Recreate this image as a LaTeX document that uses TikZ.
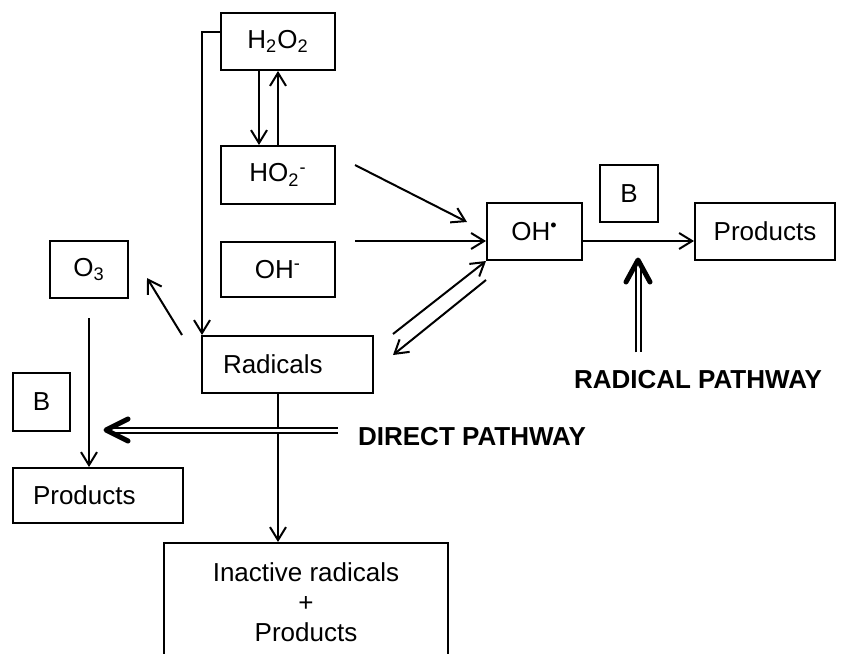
\documentclass[tikz,border=0pt]{standalone}
\usepackage{fontspec}
\setmainfont{Liberation Sans}
\usetikzlibrary{arrows.meta,positioning}

\begin{document}
\begin{tikzpicture}[x=0.5pt,y=-0.5pt,
      font=\fontsize{13}{15}\selectfont,
      box/.style={draw, line width=1pt, inner sep=0pt, align=center},
      leftbox/.style={box, align=left},
      arr/.style={-{Straight Barb[length=6.5pt,width=8pt]}, line width=1pt},
      route/.style={double, double distance=1.5pt, line width=1pt},
      headv/.style={line width=2.5pt, line cap=round, line join=round},
      pathlab/.style={font=\fontsize{13}{15}\selectfont\bfseries, inner sep=0pt}
    ]
    \useasboundingbox (0,0) rectangle (856,653);
    \node[box, minimum width=57pt, minimum height=28.5pt] (h2o2) at (278,41.5) {H\textsubscript{2}O\textsubscript{2}};
    \node[box, minimum width=57pt, minimum height=29pt] (ho2) at (278,175) {HO\textsubscript{2}\textsuperscript{-}};
    \node[box, minimum width=57pt, minimum height=27.5pt] (ohm) at (278,269.5) {OH\textsuperscript{-}};
    \node[box, minimum width=39pt, minimum height=28.5pt] (o3) at (89,269.5) {O\textsubscript{3}};
    \node[leftbox, inner xsep=10.5pt, text width=64.5pt, minimum height=28.5pt] (rad) at (287.5,364.5) {Radicals};
    \node[box, minimum width=28.5pt, minimum height=29pt] (bl) at (41.5,402) {B};
    \node[leftbox, inner xsep=10pt, text width=65pt, minimum height=27.5pt] (prodl) at (98,495.5) {Products};
    \node[box, minimum width=142pt, minimum height=59pt] (inact) at (306,602) {Inactive radicals\\+\\Products};
    \node[box, minimum width=47.5pt, minimum height=28.5pt] (ohr) at (534.5,231.5) {OH\textsuperscript{\textbullet}};
    \node[box, minimum width=29pt, minimum height=28.5pt] (bu) at (629,193.5) {B};
    \node[box, minimum width=70pt, minimum height=28.5pt] (prodr) at (765,231.5) {Products};

    \node[pathlab] (dlab) at (472,437) {DIRECT PATHWAY};
    \node[pathlab] (rlab) at (698,380) {RADICAL PATHWAY};
    \coordinate (dtip) at (106,430);
    \coordinate (rtip) at (638,260);

    % peroxide branch
    \draw[arr] ([yshift=4.75pt]h2o2.west) -| ([xshift=0.5pt]rad.north west);
    \draw[arr] ([xshift=-9.5pt]h2o2.south) -- ([xshift=-9.5pt]ho2.north);
    \draw[arr] (ho2.north) -- (h2o2.south);
    \draw[arr] ([xshift=9.5pt,yshift=5pt]ho2.east) -- ([xshift=-9.5pt,yshift=4.75pt]ohr.west);
    \draw[arr] ([xshift=9.5pt,yshift=14.25pt]ohm.east) -- ([yshift=-4.75pt]ohr.west);
    \draw[arr] ([yshift=-4.75pt]ohr.east) -- ([yshift=-4.75pt]prodr.west);
    \draw[arr] ([xshift=9.5pt,yshift=0.5pt]rad.north east) -- (ohr.south west);
    \draw[arr] ([yshift=-9.5pt]ohr.south west) -- ([xshift=9.5pt,yshift=4.75pt]rad.east);

    % ozone branch
    \draw[arr] ([xshift=-9.5pt]rad.north west) -- ([xshift=9pt,yshift=-4.25pt]o3.east);
    \draw[arr] ([yshift=-9.5pt]o3.south) -- (o3.south |- prodl.north);
    \draw[arr] ([xshift=-4.75pt]rad.south) -- ([xshift=-4.75pt]rad.south |- inact.north);

    % pathways
    \draw[route] ([xshift=-10pt,yshift=3.5pt]dlab.west) -- ([xshift=2pt]dtip);
    \draw[headv] ([xshift=11pt,yshift=5.5pt]dtip) -- (dtip) -- ([xshift=11pt,yshift=-5.5pt]dtip);
    \draw[route] ([xshift=-30pt,yshift=9pt]rlab.north) -- ([yshift=-2pt]rtip);
    \draw[headv] ([xshift=-6pt,yshift=-11pt]rtip) -- (rtip) -- ([xshift=6pt,yshift=-11pt]rtip);
  \end{tikzpicture}
\end{document}
